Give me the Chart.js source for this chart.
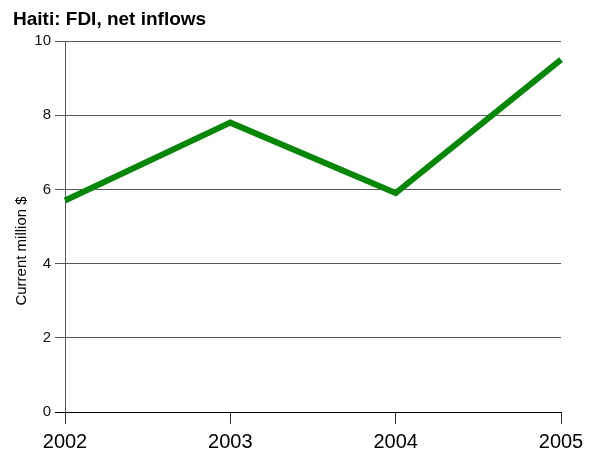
<!DOCTYPE html>
<html>
<head>
<meta charset="utf-8">
<script src="https://cdn.jsdelivr.net/npm/chart.js@4/dist/chart.umd.min.js"></script>
<style>
  html, body { margin: 0; padding: 0; background: #fff; }
  #wrap { width: 593px; height: 456px; position: relative; }
</style>
</head>
<body>
<div id="wrap"><canvas id="c" width="593" height="456"></canvas></div>
<script>
// Haiti FDI net inflows, current million US$
const years = ['2002', '2003', '2004', '2005'];
const fdiInflows = [5.7, 7.8, 5.9, 9.5];
const yTicks = [0, 2, 4, 6, 8, 10];

const chartTitle = 'Haiti: FDI, net inflows';
const yAxisTitle = 'Current million $';

// Title and rotated axis caption drawn directly on the canvas
const captions = {
  id: 'captions',
  afterDraw(chart) {
    const ctx = chart.ctx;
    ctx.save();
    ctx.fillStyle = '#000';
    ctx.font = 'bold 19px "Liberation Sans", Arial, sans-serif';
    ctx.textAlign = 'left';
    ctx.textBaseline = 'alphabetic';
    ctx.fillText(chartTitle, 13, 25);

    ctx.font = '15px "Liberation Sans", Arial, sans-serif';
    ctx.translate(22, 251);
    ctx.rotate(-Math.PI / 2);
    ctx.textAlign = 'center';
    ctx.textBaseline = 'middle';
    ctx.fillText(yAxisTitle, 0, 0);
    ctx.restore();
  }
};

new Chart(document.getElementById('c'), {
  type: 'line',
  data: {
    labels: years,
    datasets: [{
      data: fdiInflows,
      borderColor: '#078707',
      borderWidth: 6,
      pointRadius: 0,
      tension: 0,
      fill: false
    }]
  },
  options: {
    responsive: false,
    animation: false,
    devicePixelRatio: 1,
    layout: { padding: { top: 41, right: 32, left: 0, bottom: 0 } },
    plugins: {
      legend: { display: false },
      title: { display: false },
      tooltip: { enabled: false }
    },
    scales: {
      x: {
        type: 'category',
        offset: false,
        afterFit(scale) { scale.height = 44; },
        grid: {
          drawOnChartArea: false,
          drawTicks: true,
          tickLength: 12,
          color: '#333',
          lineWidth: 1
        },
        border: { display: true, color: '#000', width: 1 },
        ticks: {
          color: '#000',
          font: { family: '"Liberation Sans", Arial, sans-serif', size: 20 },
          padding: 6,
          maxRotation: 0,
          autoSkip: false
        }
      },
      y: {
        min: 0,
        max: 10,
        afterFit(scale) { scale.width = 65; },
        afterBuildTicks(scale) { scale.ticks = yTicks.map(v => ({ value: v })); },
        grid: {
          drawTicks: true,
          tickLength: 10,
          color: ctx => (ctx.tick && ctx.tick.value === 0) ? '#000' : '#555',
          lineWidth: 1
        },
        border: { display: true, color: '#555', width: 1 },
        ticks: {
          color: '#111',
          font: { family: '"Liberation Sans", Arial, sans-serif', size: 15 },
          padding: 4
        }
      }
    }
  },
  plugins: [captions]
});
</script>
</body>
</html>
